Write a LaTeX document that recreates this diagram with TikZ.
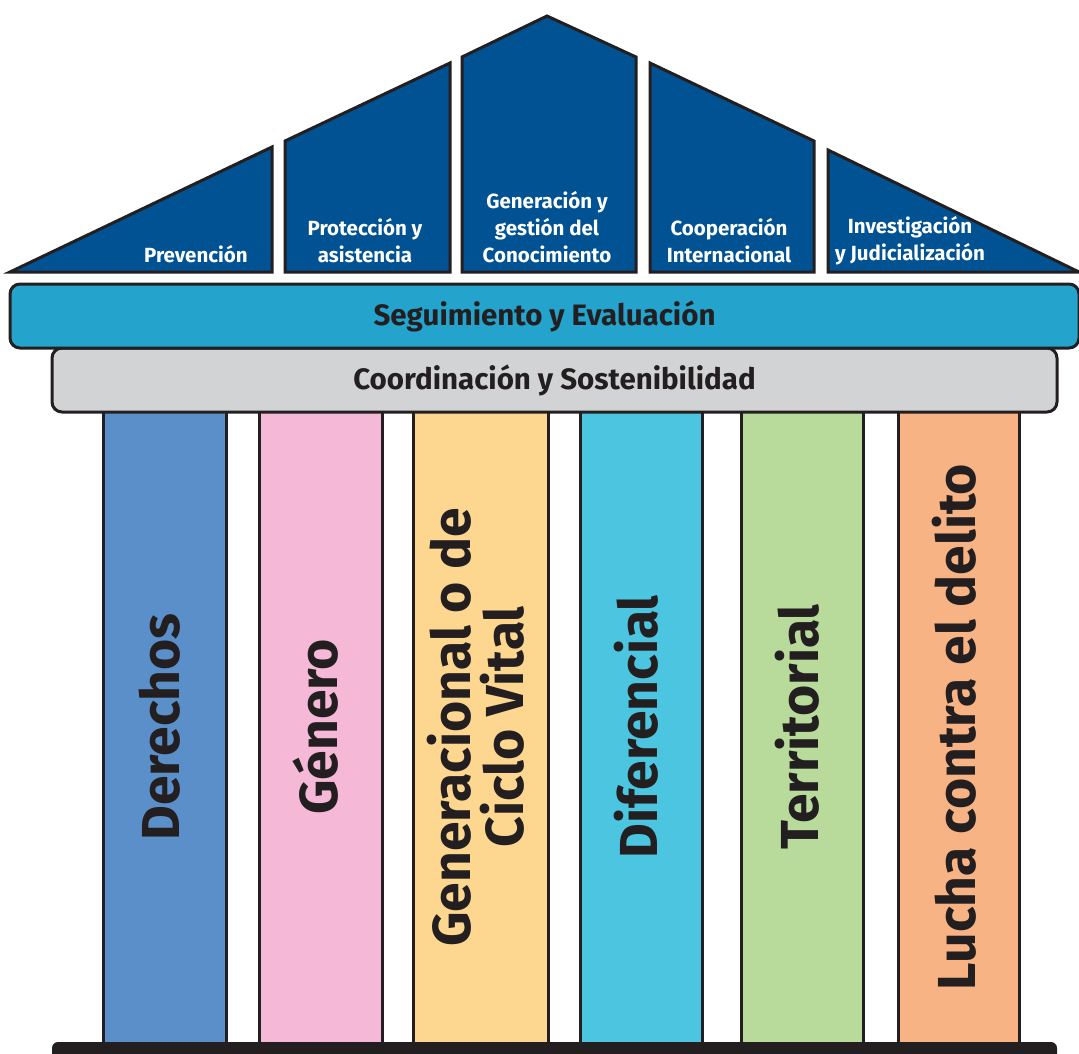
\documentclass[tikz,border=0pt]{standalone}
\usepackage{fontspec}
\setmainfont{Fira Sans}
\usepackage{tikz}
\usetikzlibrary{positioning}
\definecolor{ink}{RGB}{35,31,32}
\definecolor{roofblue}{RGB}{0,82,147}
\definecolor{segblue}{RGB}{36,163,204}
\definecolor{coorgray}{RGB}{209,211,212}
\definecolor{derblue}{RGB}{91,143,202}
\definecolor{genpink}{RGB}{245,184,215}
\definecolor{cvyellow}{RGB}{253,214,144}
\definecolor{difcyan}{RGB}{75,197,224}
\definecolor{tergreen}{RGB}{184,219,156}
\definecolor{lucorange}{RGB}{248,179,132}
\tikzstyle{roof}=[draw=ink, fill=roofblue, line width=3pt, line join=miter]
\tikzstyle{rooflabel}=[text=white, inner sep=0pt, align=center, font=\fontsize{20.5}{27}\selectfont\bfseries]
\tikzstyle{banner}=[rectangle, rounded corners=10pt, draw=ink, line width=3pt, text=ink, inner sep=0pt, font=\fontsize{29.5}{30}\selectfont\bfseries]
\tikzstyle{pillar}=[rectangle, draw=ink, line width=3pt, rotate=90, minimum width=634pt, inner sep=0pt, text=ink, text depth=10pt, align=center, font=\fontsize{53.5}{53}\selectfont\bfseries]

\begin{document}
\begin{tikzpicture}[x=1pt,y=-1pt]
     \useasboundingbox (0,0) rectangle (1079,1054);
     \clip (0,0) rectangle (1079,1054);
     % pillars
     \node (P1) [pillar, fill=derblue, minimum height=123pt] at (164.5,727) {Derechos};
     \node (P2) [pillar, fill=genpink, minimum height=123pt] at (320.5,727) {Género};
     \node (P3) [pillar, fill=cvyellow, minimum height=135pt] at (480.5,727) {Generacional o de\\Ciclo Vital};
     \node (P4) [pillar, fill=difcyan, minimum height=122pt] at (641,727) {Diferencial};
     \node (P5) [pillar, fill=tergreen, minimum height=122pt] at (802,727) {Territorial};
     \node (P6) [pillar, fill=lucorange, minimum height=121pt] at (958.5,727) {Lucha contra el delito};
     % base
     \fill[ink, rounded corners=6pt] (52,1042) rectangle (1057,1090);
     % banners
     \node (B2) [banner, fill=coorgray, minimum width=1005pt, minimum height=64pt] at (554.5,380) {Coordinación y Sostenibilidad};
     \node (B1) [banner, fill=segblue, minimum width=1069pt, minimum height=64pt] at (544.5,316) {Seguimiento y Evaluación};
     % roof
     \draw[roof] (10,272) -- (272,272) -- (272,147) -- cycle;
     \draw[roof] (285,272) -- (450,272) -- (450,63) -- (285,141) -- cycle;
     \draw[roof] (462,272) -- (636,272) -- (636,57) -- (547,16) -- (462,57) -- cycle;
     \draw[roof] (650,272) -- (814,272) -- (814,141) -- (650,63) -- cycle;
     \draw[roof] (828,272) -- (1079,272) -- (828,150) -- cycle;
     \node (R1) [rooflabel] at (196,254) {Prevención};
     \node (R2) [rooflabel] at (365,241) {Protección y\\asistencia};
     \node (R3) [rooflabel] at (547,227) {Generación y\\gestión del\\Conocimiento};
     \node (R4) [rooflabel] at (729,241) {Cooperación\\Internacional};
     \node (R5) [rooflabel] at (910,241) {Investigación\\y Judicialización};
\end{tikzpicture}
\end{document}
